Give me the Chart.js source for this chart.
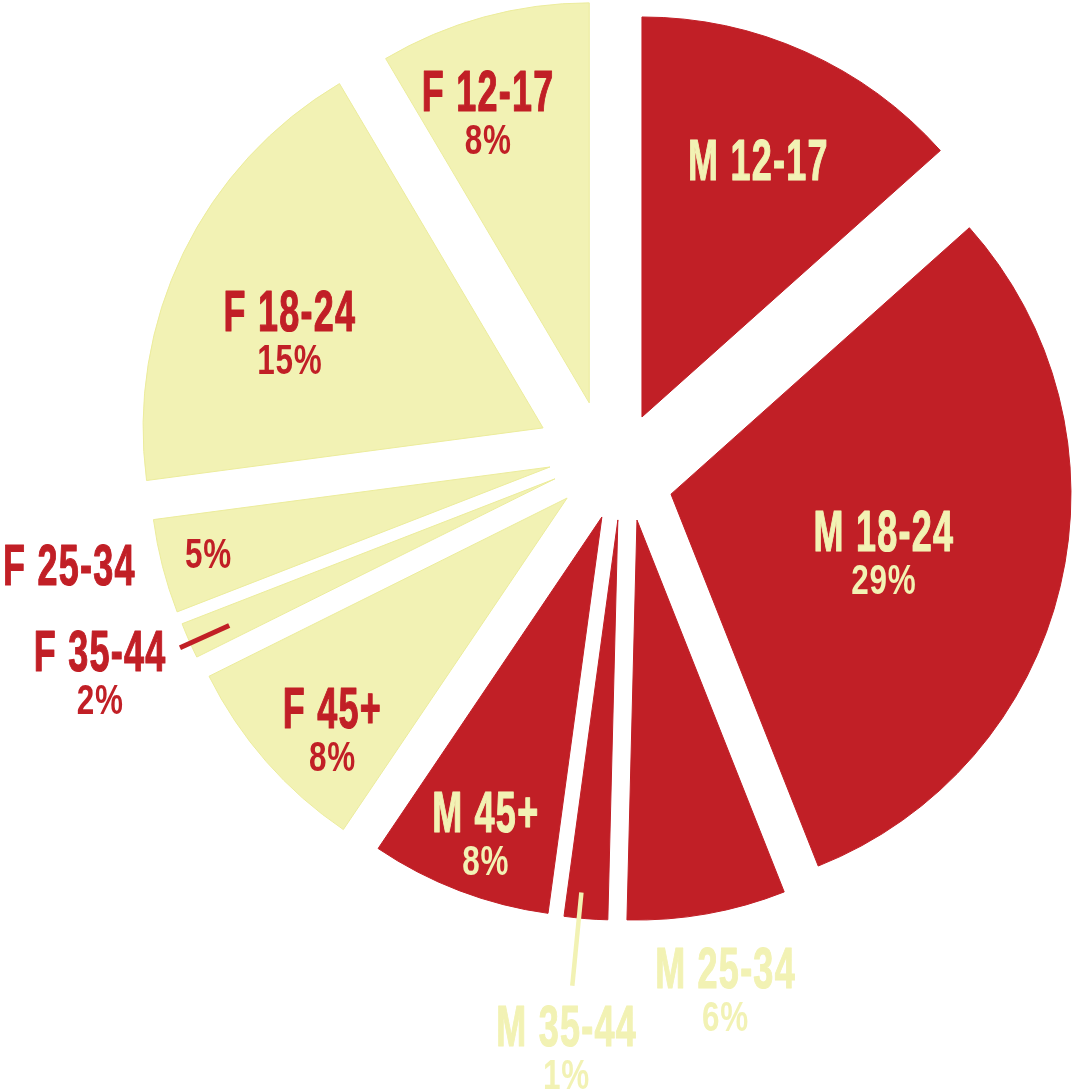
<!DOCTYPE html>
<html>
<head>
<meta charset="utf-8">
<script src="https://cdn.jsdelivr.net/npm/chart.js@4.4.1/dist/chart.umd.min.js"></script>
<style>
  html, body { margin: 0; padding: 0; background: #ffffff; }
  #wrap { width: 1073px; height: 1091px; position: relative; }
</style>
</head>
<body>
<div id="wrap"><canvas id="c" width="1073" height="1091"></canvas></div>
<script>
// ---------- data ----------
const categories = ['M 12-17', 'M 18-24', 'M 25-34', 'M 35-44', 'M 45+', 'F 45+', 'F 35-44', 'F 25-34', 'F 18-24', 'F 12-17'];
// share of the full circle covered by each slice, measured from the slice angles (%)
const shares = [13.4, 30.6, 6.4, 1.75, 7.3, 8.2, 1.45, 3.8, 18.6, 8.5];
// percentage texts printed on the chart
const printedPct = ['', '29%', '6%', '1%', '8%', '8%', '2%', '5%', '15%', '8%'];
const gender = ['M', 'M', 'M', 'M', 'M', 'F', 'F', 'F', 'F', 'F'];

// ---------- styling ----------
const RED = '#C11F26';
const CREAM = '#F2F2B4';
const FAMILY = '"Liberation Sans Narrow", "Liberation Sans", "DejaVu Sans Condensed", Arial, sans-serif';
const explode = [51.7, 60.9, 60.8, 57.6, 56.4, 60.5, 62.7, 65.2, 80.5, 64.1]; // px pulled out along the bisector
const nudge   = [5.3, 18.6, -10.5, -6.5, -6.4, 5.1, 9.3, 11.6, -1.2, -10.2];  // px sideways (clockwise +)
const nameR  = [0.707, 0.54, 1.1415, 1.271, 0.791, 0.786, 1.215, 1.226, 0.698, 0.82]; // label distance (x radius)
const nameDA = [0.2, -3.7, -1.1, 1.2, 0.65, -0.5, 3.2, 2.9, -1.0, -2.65];            // label angle shift (deg)
const pctOwn = { 7: [0.88, 0.4] };                                   // percentage placed on its own
const leaders = { 3: [0.936, 1.17, 1.0], 6: [0.893, 1.028, -0.4] };  // leader lines: from, to (x radius), angle shift

const explodePlugin = {
  id: 'explode',
  afterDatasetsUpdate(chart) {
    const meta = chart.getDatasetMeta(0);
    meta.data.forEach((arc, i) => {
      const mid = (arc.startAngle + arc.endAngle) / 2;
      arc.x += Math.cos(mid) * explode[i] - Math.sin(mid) * nudge[i];
      arc.y += Math.sin(mid) * explode[i] + Math.cos(mid) * nudge[i];
    });
  }
};

function drawCondensed(ctx, text, x, y, size, color, digitW, spacing, bolder) {
  ctx.save();
  ctx.font = 'bold ' + size + 'px ' + FAMILY;
  const k = digitW / ctx.measureText('0').width;
  if ('letterSpacing' in ctx) ctx.letterSpacing = spacing + 'px';
  ctx.translate(x, y);
  ctx.scale(k, 1);
  ctx.fillStyle = color;
  ctx.strokeStyle = color;
  ctx.lineWidth = bolder;
  ctx.lineJoin = 'round';
  ctx.textAlign = 'center';
  ctx.textBaseline = 'alphabetic';
  ctx.fillText(text, 0, size * 0.36);
  if (bolder > 0) ctx.strokeText(text, 0, size * 0.36);
  ctx.restore();
}

const labelPlugin = {
  id: 'sliceLabels',
  afterDatasetsDraw(chart) {
    const ctx = chart.ctx;
    const meta = chart.getDatasetMeta(0);
    const deg = Math.PI / 180;
    meta.data.forEach((arc, i) => {
      const R = arc.outerRadius;
      const mid = (arc.startAngle + arc.endAngle) / 2;
      const onRed = gender[i] === 'M';
      const color = onRed ? CREAM : RED;
      if (leaders[i]) {
        const [r0, r1, da] = leaders[i];
        const la = mid + da * deg;
        ctx.save();
        ctx.strokeStyle = color;
        ctx.lineWidth = onRed ? 4.5 : 5;
        ctx.beginPath();
        ctx.moveTo(arc.x + Math.cos(la) * r0 * R, arc.y + Math.sin(la) * r0 * R);
        ctx.lineTo(arc.x + Math.cos(la) * r1 * R, arc.y + Math.sin(la) * r1 * R);
        ctx.stroke();
        ctx.restore();
      }
      const a = mid + nameDA[i] * deg;
      const x = arc.x + Math.cos(a) * nameR[i] * R;
      const y = arc.y + Math.sin(a) * nameR[i] * R;
      drawCondensed(ctx, categories[i], x, y, 57, color, 20, 2, 1.2);
      if (printedPct[i]) {
        if (pctOwn[i]) {
          const [pr, pa] = pctOwn[i];
          const b = mid + pa * deg;
          drawCondensed(ctx, printedPct[i], arc.x + Math.cos(b) * pr * R, arc.y + Math.sin(b) * pr * R, 43, color, 17.5, 1, 0);
        } else {
          drawCondensed(ctx, printedPct[i], x, y + 48, 43, color, 17.5, 1, 0);
        }
      }
    });
  }
};

new Chart(document.getElementById('c'), {
  type: 'pie',
  data: {
    labels: categories,
    datasets: [{
      data: shares,
      backgroundColor: gender.map(g => g === 'M' ? RED : CREAM),
      borderColor: gender.map(g => g === 'M' ? RED : '#ECEC9C'),
      borderWidth: 1,
      offset: 0
    }]
  },
  options: {
    responsive: false,
    animation: false,
    radius: 400,
    layout: { padding: { left: 159, right: 0, top: 0, bottom: 167 } },
    events: [],
    plugins: { legend: { display: false }, tooltip: { enabled: false } }
  },
  plugins: [explodePlugin, labelPlugin]
});
</script>
</body>
</html>
